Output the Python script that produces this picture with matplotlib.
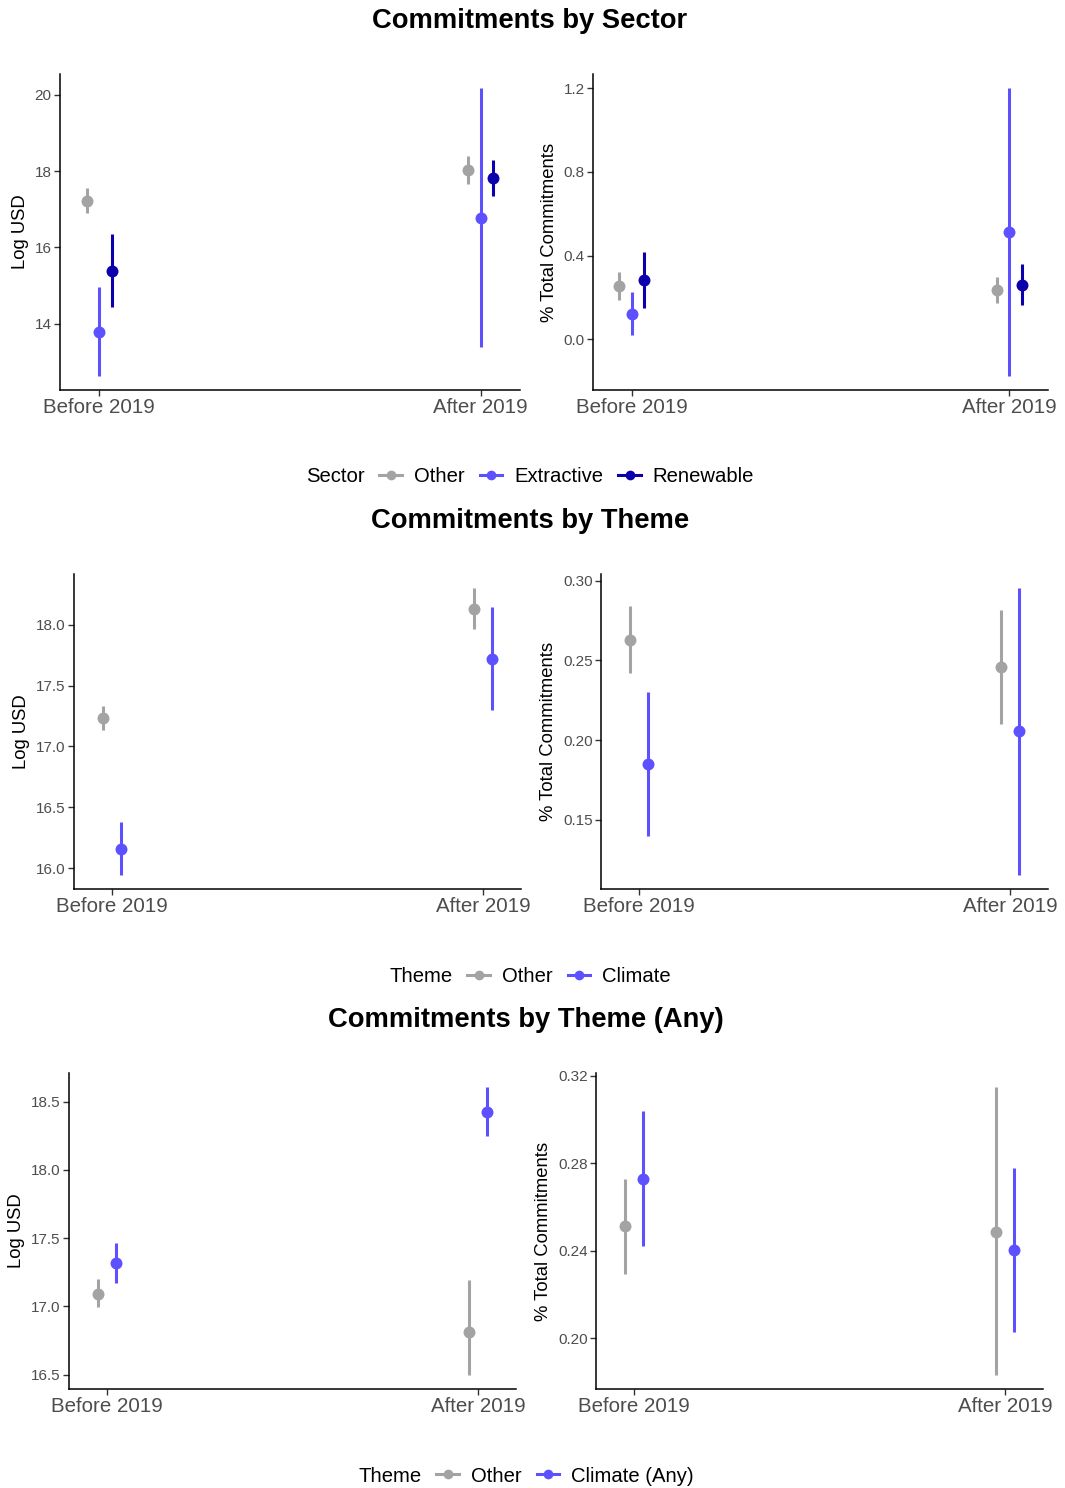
import numpy as np
import matplotlib.pyplot as plt
from matplotlib.lines import Line2D

plt.rcParams['font.family'] = ['Liberation Sans', 'DejaVu Sans']

periods = ['Before 2019', 'After 2019']

# Commitments by sector
sector_groups = ['Other', 'Extractive', 'Renewable']
sector_log_mean = [[17.23, 18.03], [13.79, 16.77], [15.39, 17.83]]
sector_log_low = [[16.90, 17.67], [12.64, 13.39], [14.45, 17.36]]
sector_log_high = [[17.55, 18.41], [14.97, 20.17], [16.34, 18.30]]
sector_pct_mean = [[0.255, 0.236], [0.121, 0.513], [0.284, 0.260]]
sector_pct_low = [[0.188, 0.172], [0.019, -0.175], [0.148, 0.164]]
sector_pct_high = [[0.323, 0.296], [0.223, 1.200], [0.419, 0.359]]

# Commitments by theme
theme_groups = ['Other', 'Climate']
theme_log_mean = [[17.233, 18.131], [16.158, 17.722]]
theme_log_low = [[17.132, 17.962], [15.946, 17.301]]
theme_log_high = [[17.333, 18.299], [16.376, 18.144]]
theme_pct_mean = [[0.2630, 0.2460], [0.1847, 0.2055]]
theme_pct_low = [[0.2418, 0.2100], [0.1396, 0.1155]]
theme_pct_high = [[0.2840, 0.2817], [0.2300, 0.2952]]

# Commitments by theme (any)
any_groups = ['Other', 'Climate (Any)']
any_log_mean = [[17.094, 16.810], [17.315, 18.422]]
any_log_low = [[16.992, 16.500], [17.169, 18.245]]
any_log_high = [[17.198, 17.191], [17.465, 18.604]]
any_pct_mean = [[0.2512, 0.2486], [0.2729, 0.2403]]
any_pct_low = [[0.2293, 0.1833], [0.2422, 0.2026]]
any_pct_high = [[0.2729, 0.3147], [0.3037, 0.2778]]

sector_colors = ['#A3A3A3', '#5D51FF', '#0C00AD']
theme_colors = ['#A3A3A3', '#5D51FF']

W, H = 1065, 1488
fig = plt.figure(figsize=(W / 100, H / 100), dpi=100)


def px_axes(x0, y0, x1, y1):
    return fig.add_axes([x0 / W, 1 - y1 / H, (x1 - x0) / W, (y1 - y0) / H])


def draw_panel(ax, groups, mean, low, high, colors, ylabel, yticks, fmt):
    n = len(groups)
    dodge = 0.1
    x = np.arange(1, len(periods) + 1)
    for i in range(n):
        off = (i - (n - 1) / 2) * dodge / n
        xs = x + off
        ax.vlines(xs, low[i], high[i], color=colors[i], lw=2.2)
        ax.plot(xs, mean[i], 'o', color=colors[i], ms=8.6, mec='none')
    lo = np.min(low)
    hi = np.max(high)
    pad = (hi - lo) * 0.05
    ax.set_ylim(lo - pad, hi + pad)
    ax.set_xlim(0.897, 2.103)
    ax.set_xticks(x)
    ax.set_xticklabels(periods)
    ax.set_yticks(yticks)
    ax.set_yticklabels([fmt.format(t) for t in yticks])
    ax.set_ylabel(ylabel, fontsize=13.3, color='black', labelpad=4)
    for s in ['top', 'right']:
        ax.spines[s].set_visible(False)
    for s in ['left', 'bottom']:
        ax.spines[s].set_linewidth(1.1)
        ax.spines[s].set_color('black')
    ax.tick_params(axis='both', direction='out', length=4, width=1,
                   color='#333333', labelcolor='#4D4D4D')
    ax.tick_params(axis='x', labelsize=14.8, pad=2)
    ax.tick_params(axis='y', labelsize=11, pad=2)


def add_legend(title, groups, colors, cy, cx=530):
    handles = [Line2D([], [], color=c, lw=2.2, marker='o', ms=7, mec='none')
               for c in colors]
    leg = fig.legend(handles, groups, loc='center left', bbox_to_anchor=(0, 1 - cy / H),
                     ncol=len(groups), frameon=False, fontsize=14.6,
                     handlelength=1.1, handletextpad=0.6, columnspacing=0.75,
                     borderpad=0, borderaxespad=0)
    t = fig.text(0, 1 - cy / H, title, fontsize=14.6, ha='left', va='center')
    fig.canvas.draw()
    r = fig.canvas.get_renderer()
    lw = leg.get_window_extent(r).width
    tw = t.get_window_extent(r).width
    gap = 15
    start = cx - (tw + gap + lw) / 2
    t.set_x(start / W)
    leg.set_bbox_to_anchor(((start + tw + gap) / W, 1 - cy / H), transform=fig.transFigure)


# Row 1: sector
fig.text(530 / W, 1 - 21 / H, 'Commitments by Sector', fontsize=19.7,
         fontweight='bold', ha='center', va='center')
ax = px_axes(60, 74, 520, 390)
draw_panel(ax, sector_groups, sector_log_mean, sector_log_low, sector_log_high,
           sector_colors, 'Log USD', [14, 16, 18, 20], '{:.0f}')
ax = px_axes(593, 74, 1048, 390)
draw_panel(ax, sector_groups, sector_pct_mean, sector_pct_low, sector_pct_high,
           sector_colors, '% Total Commitments', [0.0, 0.4, 0.8, 1.2], '{:.1f}')
add_legend('Sector', sector_groups, sector_colors, 477)

# Row 2: theme
fig.text(530 / W, 1 - 521 / H, 'Commitments by Theme', fontsize=19.7,
         fontweight='bold', ha='center', va='center')
ax = px_axes(74, 574, 521, 889)
draw_panel(ax, theme_groups, theme_log_mean, theme_log_low, theme_log_high,
           theme_colors, 'Log USD', [16.0, 16.5, 17.0, 17.5, 18.0], '{:.1f}')
ax = px_axes(601, 574, 1048, 889)
draw_panel(ax, theme_groups, theme_pct_mean, theme_pct_low, theme_pct_high,
           theme_colors, '% Total Commitments', [0.15, 0.20, 0.25, 0.30], '{:.2f}')
add_legend('Theme', theme_groups, theme_colors, 977)

# Row 3: theme (any)
fig.text(526 / W, 1 - 1020 / H, 'Commitments by Theme (Any)', fontsize=19.7,
         fontweight='bold', ha='center', va='center')
ax = px_axes(69, 1073, 516, 1389)
draw_panel(ax, any_groups, any_log_mean, any_log_low, any_log_high,
           theme_colors, 'Log USD', [16.5, 17.0, 17.5, 18.0, 18.5], '{:.1f}')
ax = px_axes(596, 1073, 1043, 1389)
draw_panel(ax, any_groups, any_pct_mean, any_pct_low, any_pct_high,
           theme_colors, '% Total Commitments', [0.20, 0.24, 0.28, 0.32], '{:.2f}')
add_legend('Theme', any_groups, theme_colors, 1476, cx=526)

fig.savefig('out.png', dpi=100)
